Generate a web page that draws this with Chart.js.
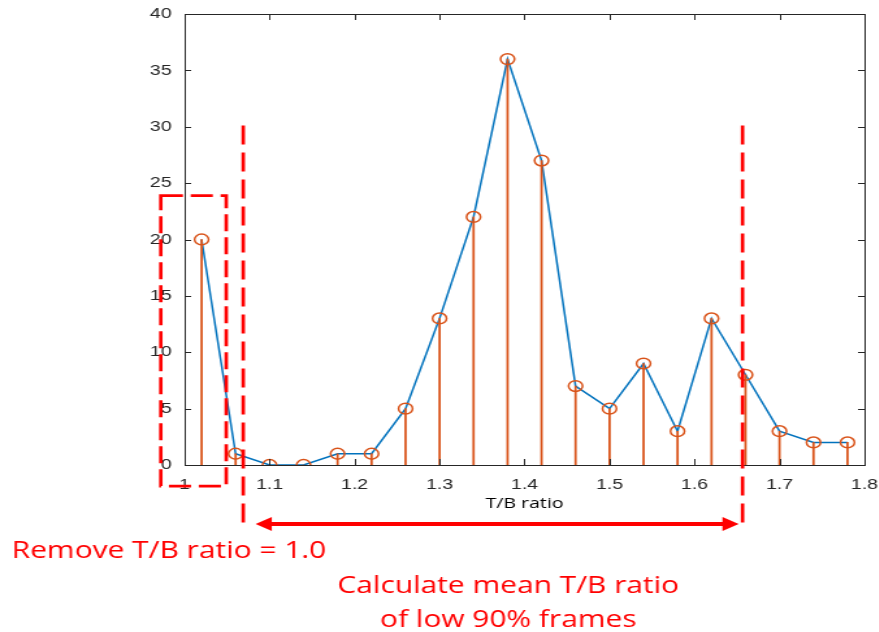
<html>
<head>
    <title>T/B ratio</title>
    <style>
        body { margin: 0; background: #fff; overflow: hidden; }
        /* the reference figure is stretched sideways, so is this one */
        #tb-chart { transform: scaleX(1.3); transform-origin: 0 0; }
    </style>
</head>
<body>

<script src="https://cdn.jsdelivr.net/npm/chart.js@4.4.1/dist/chart.umd.min.js"></script>

<canvas id="tb-chart" width="676" height="632"></canvas>

<script>
    // histogram of T/B ratio
    const tbRatio = [1.02, 1.06, 1.10, 1.14, 1.18, 1.22, 1.26, 1.30, 1.34, 1.38,
        1.42, 1.46, 1.50, 1.54, 1.58, 1.62, 1.66, 1.70, 1.74, 1.78];
    const frameCount = [20, 1, 0, 0, 1, 1, 5, 13, 22, 36, 27, 7, 5, 9, 3, 13, 8, 3, 2, 2];
    const xTicks = [1, 1.1, 1.2, 1.3, 1.4, 1.5, 1.6, 1.7, 1.8];
    const yTicks = [0, 5, 10, 15, 20, 25, 30, 35, 40];

    // annotation positions, in axis units
    const cutLeft = 1.069, cutRight = 1.6565;
    const cutTop = 30.1, cutBottom = -5.7;
    const boxX = [0.972, 1.049], boxY = [23.9, -1.87];
    const arrowX = [1.0835, 1.652], arrowY = -5.24;
    const noteRemove = 'Remove T/B ratio = 1.0';
    const noteMean = ['Calculate mean T/B ratio', 'of low 90% frames'];

    const points = tbRatio.map((x, i) => ({x: x, y: frameCount[i]}));

    const boxAndNotes = {
        id: 'boxAndNotes',
        afterDatasetsDraw(chart) {
            const ctx = chart.ctx;
            const xs = chart.scales.x, ys = chart.scales.y;
            const a = chart.chartArea;

            // matlab style box with inward ticks
            ctx.save();
            ctx.strokeStyle = '#262626';
            ctx.lineWidth = 1;
            ctx.strokeRect(Math.round(a.left) + 0.5, Math.round(a.top) + 0.5,
                Math.round(a.right - a.left), Math.round(a.bottom - a.top));
            ctx.beginPath();
            xTicks.forEach(v => {
                const px = Math.round(xs.getPixelForValue(v)) + 0.5;
                ctx.moveTo(px, a.bottom); ctx.lineTo(px, a.bottom - 6);
                ctx.moveTo(px, a.top); ctx.lineTo(px, a.top + 6);
            });
            yTicks.forEach(v => {
                const py = Math.round(ys.getPixelForValue(v)) + 0.5;
                ctx.moveTo(a.left, py); ctx.lineTo(a.left + 5, py);
                ctx.moveTo(a.right, py); ctx.lineTo(a.right - 5, py);
            });
            ctx.stroke();

            // red dashed marks
            ctx.strokeStyle = '#ff0000';
            ctx.lineWidth = 2.7;
            ctx.setLineDash([19, 8]);
            [cutLeft, cutRight].forEach(v => {
                const px = xs.getPixelForValue(v);
                ctx.beginPath();
                ctx.moveTo(px, ys.getPixelForValue(cutTop));
                ctx.lineTo(px, ys.getPixelForValue(cutBottom));
                ctx.stroke();
            });
            const bx0 = xs.getPixelForValue(boxX[0]), bx1 = xs.getPixelForValue(boxX[1]);
            const by0 = ys.getPixelForValue(boxY[0]), by1 = ys.getPixelForValue(boxY[1]);
            ctx.setLineDash([17, 6]);
            ctx.strokeRect(bx0, by0, bx1 - bx0, by1 - by0);
            ctx.setLineDash([]);

            // double arrow
            const ax0 = xs.getPixelForValue(arrowX[0]), ax1 = xs.getPixelForValue(arrowX[1]);
            const ay = ys.getPixelForValue(arrowY);
            ctx.lineWidth = 4;
            ctx.beginPath();
            ctx.moveTo(ax0 + 8, ay); ctx.lineTo(ax1 - 8, ay);
            ctx.stroke();
            ctx.fillStyle = '#ff0000';
            ctx.beginPath();
            ctx.moveTo(ax0, ay); ctx.lineTo(ax0 + 12.5, ay - 7); ctx.lineTo(ax0 + 12.5, ay + 7);
            ctx.closePath();
            ctx.moveTo(ax1, ay); ctx.lineTo(ax1 - 12.5, ay - 7); ctx.lineTo(ax1 - 12.5, ay + 7);
            ctx.closePath();
            ctx.fill();

            // notes
            ctx.font = '23px "Open Sans"';
            ctx.textBaseline = 'alphabetic';
            ctx.textAlign = 'left';
            ctx.fillText(noteRemove, 9, 558);
            ctx.textAlign = 'center';
            ctx.fillText(noteMean[0], 391, 593);
            ctx.fillText(noteMean[1], 391, 627);
            ctx.restore();
        }
    };

    const tb_chart = new Chart(document.getElementById('tb-chart'), {
        type: 'scatter',
        data: {
            datasets: [
                {
                    type: 'line',
                    data: points,
                    borderColor: '#0072bd',
                    borderWidth: 1.5,
                    pointRadius: 0,
                    tension: 0,
                    order: 3
                },
                {
                    type: 'bar',
                    data: points,
                    backgroundColor: '#d95319',
                    barThickness: 1.1,
                    order: 2
                },
                {
                    type: 'scatter',
                    data: points,
                    pointStyle: 'circle',
                    pointRadius: 5.4,
                    borderColor: '#d95319',
                    backgroundColor: 'rgba(0,0,0,0)',
                    borderWidth: 1.5,
                    order: 1
                }
            ]
        },
        options: {
            responsive: false,
            animation: false,
            events: [],
            layout: {padding: {top: 14, right: 11, left: 0, bottom: 119}},
            plugins: {
                legend: {display: false},
                tooltip: {enabled: false}
            },
            scales: {
                x: {
                    type: 'linear',
                    min: 1,
                    max: 1.8,
                    offset: false,
                    grid: {display: false, drawTicks: false},
                    border: {display: false},
                    ticks: {
                        stepSize: 0.1,
                        padding: 11,
                        color: '#262626',
                        font: {family: 'Liberation Sans', size: 15},
                        maxRotation: 0,
                        callback: v => String(Number(v.toFixed(1)))
                    },
                    title: {
                        display: true,
                        text: 'T/B ratio',
                        color: '#000',
                        font: {family: 'Open Sans', size: 15},
                        padding: {top: 0, bottom: 0}
                    },
                    afterFit: s => {
                        s.height = 48;
                        s.paddingLeft = 0;
                        s.paddingRight = 0;
                    }
                },
                y: {
                    min: 0,
                    max: 40,
                    grid: {display: false, drawTicks: false},
                    border: {display: false},
                    ticks: {
                        stepSize: 5,
                        padding: 10,
                        color: '#262626',
                        font: {family: 'Liberation Sans', size: 15}
                    },
                    afterFit: s => {
                        s.width = 142;
                        s.paddingTop = 0;
                        s.paddingBottom = 0;
                    }
                }
            }
        },
        plugins: [boxAndNotes]
    });
</script>

</body>
</html>
